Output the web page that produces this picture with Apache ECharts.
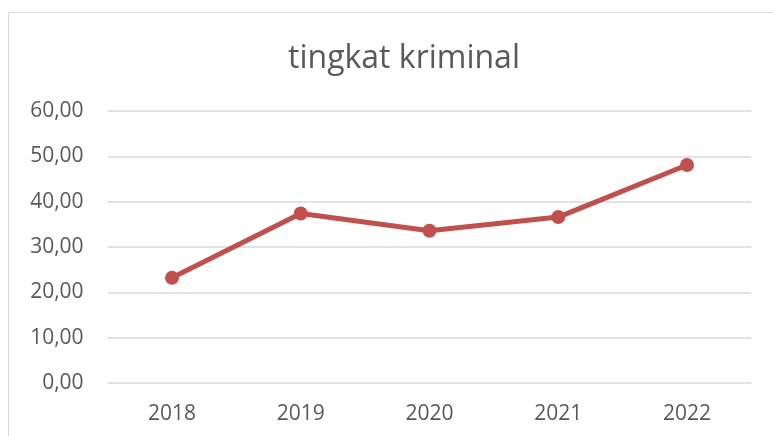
<!DOCTYPE html>
<html><head><meta charset="utf-8">
<script src="https://cdn.jsdelivr.net/npm/echarts@6/dist/echarts.min.js"></script>
<style>html,body{margin:0;padding:0;background:#fff}#c{width:773px;height:436px}</style>
</head><body><div id="c"></div>
<script>
const categories = ['2018','2019','2020','2021','2022'];
const values = [23.2, 37.4, 33.6, 36.6, 48.1];
const yTicks = [0,10,20,30,40,50,60];
const titleText = 'tingkat kriminal';

const chart = echarts.init(document.getElementById('c'), null, {renderer:'canvas'});
const font = '"Open Sans", "Noto Sans", sans-serif';
chart.setOption({
  animation:false,
  backgroundColor:'#fff',
  graphic:[{type:'rect', shape:{x:8.5,y:12.5,width:800,height:500}, style:{fill:'none',stroke:'#d9d9d9',lineWidth:1}, silent:true}],
  title:{text:titleText,left:399,textAlign:'center',top:38,textStyle:{fontFamily:font,fontWeight:'normal',fontSize:32,color:'#595959'}},
  grid:{left:107.6,right:21.6,top:111,bottom:53,containLabel:false},
  xAxis:{type:'category',data:categories,boundaryGap:true,
    axisLine:{show:false},axisTick:{show:false},
    axisLabel:{fontFamily:font,fontSize:21,color:'#595959',margin:21}},
  yAxis:{type:'value',min:yTicks[0],max:yTicks[yTicks.length-1],interval:10,
    axisLine:{show:false},axisTick:{show:false},
    splitLine:{lineStyle:{color:'#d9d9d9',width:1.5}},
    axisLabel:{fontFamily:font,fontSize:21,color:'#595959',margin:24,
      formatter:v=>v.toFixed(2).replace('.',',')}},
  series:[{type:'line',data:values,symbol:'circle',symbolSize:14,
    lineStyle:{color:'#C0504D',width:5},itemStyle:{color:'#C0504D'}}]
});
</script></body></html>
